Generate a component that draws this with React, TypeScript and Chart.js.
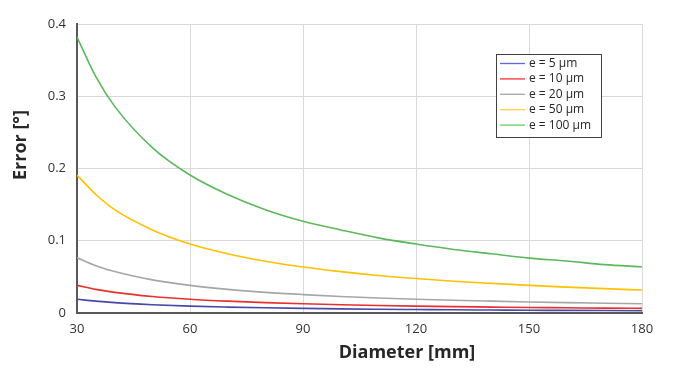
import React, { useEffect, useRef } from "react";
import { Chart, registerables } from "chart.js";

Chart.register(...registerables);

const diameters = [30, 35, 40, 50, 60, 70, 80, 90, 100, 110, 120, 130, 140, 150, 160, 170, 180];
const labels = ["e = 5 µm", "e = 10 µm", "e = 20 µm", "e = 50 µm", "e = 100 µm"];
const e5 = [0.0191, 0.0164, 0.0143, 0.0115, 0.0095, 0.0082, 0.0072, 0.0064, 0.0057, 0.0052, 0.0048, 0.0044, 0.0041, 0.0038, 0.0036, 0.0034, 0.0032];
const e10 = [0.0382, 0.0327, 0.0286, 0.0229, 0.0191, 0.0164, 0.0143, 0.0127, 0.0115, 0.0104, 0.0095, 0.0088, 0.0082, 0.0076, 0.0072, 0.0067, 0.0064];
const e20 = [0.0764, 0.0655, 0.0573, 0.0458, 0.0382, 0.0327, 0.0286, 0.0255, 0.0229, 0.0208, 0.0191, 0.0176, 0.0164, 0.0153, 0.0143, 0.0135, 0.0127];
const e50 = [0.191, 0.164, 0.143, 0.115, 0.0955, 0.082, 0.0716, 0.0637, 0.0573, 0.052, 0.0477, 0.044, 0.041, 0.0382, 0.0358, 0.0337, 0.0318];
const e100 = [0.382, 0.327, 0.286, 0.229, 0.191, 0.164, 0.143, 0.127, 0.115, 0.104, 0.0955, 0.088, 0.082, 0.076, 0.072, 0.067, 0.064];
const seriesValues = [e5, e10, e20, e50, e100];
const colors = ["#4848a8", "#e8302c", "#a6a6a6", "#ffc000", "#5cb85c"];
const legendColors = ["#6464e8", "#ff3030", "#a6a6a6", "#ffd24a", "#66cc66"];
const xTicks = [30, 60, 90, 120, 150, 180];
const xTitle = "Diameter [mm]";
const yTitle = "Error [°]";

const extrasPlugin = {
  id: "extras",
  afterDraw(chart: any) {
    const ctx = chart.ctx;
    const ca = chart.chartArea;
    ctx.save();
    // axis titles
    ctx.fillStyle = "#262626";
    ctx.font = "bold 18px 'Open Sans'";
    ctx.textAlign = "center";
    ctx.textBaseline = "middle";
    ctx.fillText(xTitle, ca.left + 330, ca.bottom + 40);
    ctx.save();
    ctx.translate(21, ca.top + 121);
    ctx.rotate(-Math.PI / 2);
    ctx.fillText(yTitle, 0, 0);
    ctx.restore();
    // legend box
    const w = 105;
    const h = 83;
    const x0 = ca.right - 41 - w;
    const y0 = ca.top + 30;
    ctx.fillStyle = "#ffffff";
    ctx.fillRect(x0, y0, w, h);
    ctx.strokeStyle = "#404040";
    ctx.lineWidth = 1;
    ctx.strokeRect(x0 + 0.5, y0 + 0.5, w, h);
    ctx.font = "12px 'Open Sans'";
    ctx.textAlign = "left";
    ctx.textBaseline = "middle";
    chart.data.datasets.forEach((ds: any, i: number) => {
      const y = y0 + 9.5 + i * 15.4;
      ctx.strokeStyle = legendColors[i];
      ctx.lineWidth = 1.3;
      ctx.beginPath();
      ctx.moveTo(x0 + 4, y);
      ctx.lineTo(x0 + 29, y);
      ctx.stroke();
      ctx.fillStyle = "#262626";
      ctx.fillText(ds.label, x0 + 33, y);
    });
    ctx.restore();
  },
};

export default function App() {
  const ref = useRef<HTMLCanvasElement>(null);
  useEffect(() => {
    if (!ref.current) return;
    const chart = new Chart(ref.current, {
      type: "line",
      data: {
        datasets: seriesValues.map((vals, i) => ({
          label: labels[i],
          data: diameters.map((d, j) => ({ x: d, y: vals[j] })),
          borderColor: colors[i],
          borderWidth: 1.6,
          pointRadius: 0,
          cubicInterpolationMode: "monotone" as const,
          fill: false,
        })),
      },
      options: {
        animation: false,
        responsive: false,
        layout: { padding: { top: 24, right: 35, left: 0, bottom: 0 } },
        plugins: { legend: { display: false }, tooltip: { enabled: false } },
        scales: {
          x: {
            type: "linear",
            min: 30,
            max: 180,
            afterBuildTicks: (s: any) => {
              s.ticks = xTicks.map((v) => ({ value: v }));
            },
            afterFit: (s: any) => {
              s.height = 61;
            },
            grid: { color: "#d9d9d9", drawTicks: false, lineWidth: 1 },
            border: { color: "#595959", width: 2 },
            ticks: { padding: 8, color: "#333333", font: { family: "'Open Sans'", size: 13 } },
          },
          y: {
            min: 0,
            max: 0.4,
            afterFit: (s: any) => {
              s.width = 77;
            },
            grid: { color: "#d9d9d9", drawTicks: false, lineWidth: 1 },
            border: { color: "#595959", width: 2 },
            ticks: {
              stepSize: 0.1,
              padding: 11,
              color: "#333333",
              font: { family: "'Open Sans'", size: 13 },
              callback: (v: any) => (v === 0 ? "0" : Number(v).toFixed(1)),
            },
          },
        },
      },
      plugins: [extrasPlugin],
    });
    return () => chart.destroy();
  }, []);
  return (
    <div style={{ position: "fixed", left: 0, top: 0, width: 677, height: 374, background: "#fff" }}>
      <canvas ref={ref} width={677} height={374} />
    </div>
  );
}
